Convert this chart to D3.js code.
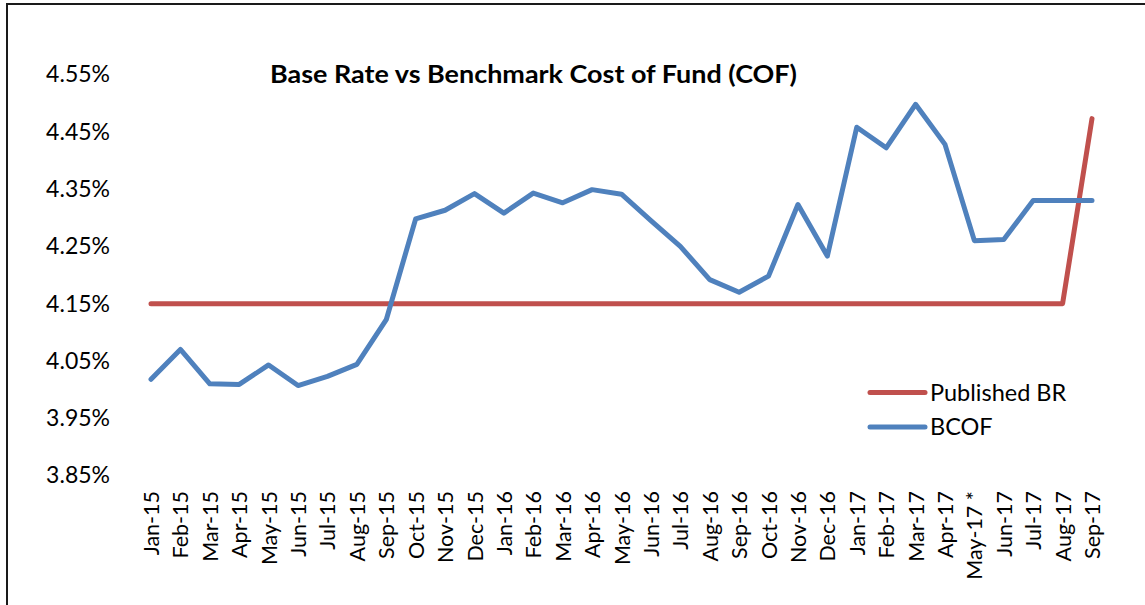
<!DOCTYPE html>
<html>
<head>
<meta charset="utf-8">
<script src="https://cdn.jsdelivr.net/npm/d3@7/dist/d3.min.js"></script>
<style>
  body { margin: 0; background: #fff; }
  svg { display: block; font-family: Lato, "Noto Sans", sans-serif; }
</style>
</head>
<body>
<svg width="1145" height="605"></svg>
<script>
// mois (axe x)
const months = [
  "Jan-15", "Feb-15", "Mar-15", "Apr-15", "May-15", "Jun-15", "Jul-15", "Aug-15", "Sep-15",
  "Oct-15", "Nov-15", "Dec-15", "Jan-16", "Feb-16", "Mar-16", "Apr-16", "May-16", "Jun-16",
  "Jul-16", "Aug-16", "Sep-16", "Oct-16", "Nov-16", "Dec-16", "Jan-17", "Feb-17", "Mar-17",
  "Apr-17", "May-17 *", "Jun-17", "Jul-17", "Aug-17", "Sep-17"
];

// Published BR (%)
const publishedBR = [
  4.15, 4.15, 4.15, 4.15, 4.15, 4.15, 4.15, 4.15, 4.15,
  4.15, 4.15, 4.15, 4.15, 4.15, 4.15, 4.15, 4.15, 4.15,
  4.15, 4.15, 4.15, 4.15, 4.15, 4.15, 4.15, 4.15, 4.15,
  4.15, 4.15, 4.15, 4.15, 4.15, 4.473
];

// BCOF (%)
const bcof = [
  4.018, 4.070, 4.010, 4.009, 4.043, 4.007, 4.023, 4.044, 4.122,
  4.298, 4.313, 4.342, 4.308, 4.343, 4.326, 4.349, 4.341, 4.295,
  4.250, 4.192, 4.170, 4.198, 4.323, 4.233, 4.458, 4.422, 4.498,
  4.428, 4.260, 4.262, 4.330, 4.330, 4.330
];

const yTicks = [3.85, 3.95, 4.05, 4.15, 4.25, 4.35, 4.45, 4.55];

const series = [
  { name: "Published BR", color: "#C0504D", values: publishedBR },
  { name: "BCOF", color: "#4F81BD", values: bcof }
];

const svg = d3.select("svg");

/*----------- cadre -----------*/
svg.append("path")
  .attr("d", "M7,605 V4 H1145")
  .attr("fill", "none")
  .attr("stroke", "#1a1a1a")
  .attr("stroke-width", 2);

/*----------- echelles -----------*/
const x = d3.scalePoint().domain(months).range([151, 1092]);
const y = d3.scaleLinear().domain([3.85, 4.55]).range([475.5, 74.5]);

// axe y : seulement les etiquettes
const yAxis = d3.axisLeft(y)
  .tickValues(yTicks)
  .tickSize(0)
  .tickPadding(0)
  .tickFormat((d) => d3.format(".2f")(d) + "%");

svg.append("g")
  .attr("transform", "translate(110,0)")
  .call(yAxis)
  .call((g) => g.select(".domain").remove())
  .selectAll("text")
  .attr("font-family", "Lato, 'Noto Sans', sans-serif")
  .attr("font-size", 23)
  .attr("fill", "#000");

// axe x : etiquettes verticales
const xAxis = d3.axisBottom(x).tickSize(0).tickPadding(0);
svg.append("g")
  .attr("transform", "translate(0,491)")
  .call(xAxis)
  .call((g) => g.select(".domain").remove())
  .selectAll("text")
  .attr("font-family", "Lato, 'Noto Sans', sans-serif")
  .attr("font-size", 21.5)
  .attr("fill", "#000")
  .attr("text-anchor", "end")
  .attr("transform", "rotate(-90)")
  .attr("x", 0)
  .attr("y", 0)
  .attr("dy", "0.35em");

/*----------- lignes -----------*/
const line = d3.line()
  .x((d, i) => x(months[i]))
  .y((d) => y(d));

svg.selectAll(".serie")
  .data(series)
  .enter()
  .append("path")
  .attr("class", "serie")
  .attr("fill", "none")
  .attr("stroke", (d) => d.color)
  .attr("stroke-width", 5)
  .attr("stroke-linejoin", "round")
  .attr("stroke-linecap", "round")
  .attr("d", (d) => line(d.values));

/*----------- titre -----------*/
svg.append("text")
  .attr("x", 533.5)
  .attr("y", 83)
  .attr("text-anchor", "middle")
  .attr("font-weight", "bold")
  .attr("font-size", 25)
  .attr("textLength", 527)
  .attr("lengthAdjust", "spacingAndGlyphs")
  .attr("fill", "#000")
  .text("Base Rate vs Benchmark Cost of Fund (COF)");

/*----------- legende -----------*/
const legend = svg.selectAll(".legend")
  .data(series)
  .enter()
  .append("g")
  .attr("class", "legend")
  .attr("transform", (d, i) => "translate(870," + (392.5 + i * 34.5) + ")");

legend.append("line")
  .attr("x1", 0)
  .attr("x2", 55)
  .attr("stroke", (d) => d.color)
  .attr("stroke-width", 5)
  .attr("stroke-linecap", "round");

legend.append("text")
  .attr("x", 60)
  .attr("dy", "0.35em")
  .attr("font-size", 23.5)
  .attr("fill", "#000")
  .text((d) => d.name);
</script>
</body>
</html>
